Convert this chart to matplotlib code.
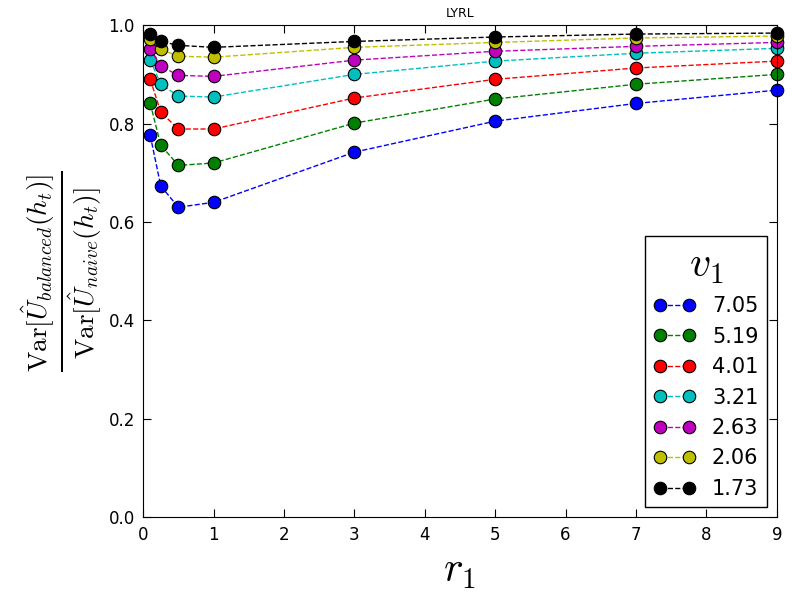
import matplotlib
matplotlib.use('Agg')
import matplotlib.pyplot as plt

# data
r1 = [0.1, 0.25, 0.5, 1, 3, 5, 7, 9]
v1_labels = ['7.05', '5.19', '4.01', '3.21', '2.63', '2.06', '1.73']
colors = ['b', 'g', 'r', 'c', 'm', 'y', 'k']

ratio_705 = [0.776, 0.673, 0.630, 0.640, 0.742, 0.805, 0.841, 0.868]
ratio_519 = [0.841, 0.756, 0.715, 0.720, 0.801, 0.850, 0.880, 0.900]
ratio_401 = [0.890, 0.823, 0.789, 0.789, 0.852, 0.890, 0.913, 0.927]
ratio_321 = [0.929, 0.880, 0.856, 0.854, 0.900, 0.927, 0.943, 0.953]
ratio_263 = [0.951, 0.917, 0.898, 0.896, 0.929, 0.947, 0.957, 0.965]
ratio_206 = [0.972, 0.951, 0.937, 0.935, 0.955, 0.965, 0.974, 0.978]
ratio_173 = [0.982, 0.967, 0.959, 0.955, 0.967, 0.976, 0.982, 0.984]
all_ratios = [ratio_705, ratio_519, ratio_401, ratio_321, ratio_263, ratio_206, ratio_173]

plt.rcParams['mathtext.fontset'] = 'cm'
plt.rcParams['xtick.direction'] = 'in'
plt.rcParams['ytick.direction'] = 'in'
plt.rcParams['xtick.top'] = True
plt.rcParams['ytick.right'] = True

fig = plt.figure(figsize=(8, 6), dpi=100)
ax = fig.add_axes([0.179, 0.138, 0.792, 0.82])

for vals, c, lab in zip(all_ratios, colors, v1_labels):
    ax.plot(r1, vals, '--o', color=c, markersize=9, markeredgecolor='k',
            markeredgewidth=0.8, linewidth=1, label=lab, clip_on=False)

ax.set_xlim(0, 9)
ax.set_ylim(0, 1.0)
ax.set_xticks(range(0, 10))
ax.set_yticks([0, 0.2, 0.4, 0.6, 0.8, 1.0])
ax.set_yticklabels(['0.0', '0.2', '0.4', '0.6', '0.8', '1.0'])
ax.tick_params(labelsize=12, length=6, pad=6)
ax.set_title('LYRL', fontsize=9)
ax.set_xlabel(r'$r_1$', fontsize=30)
ax.set_ylabel(r'$\frac{\mathrm{Var}[\hat{U}_{balanced}(h_t)]}{\mathrm{Var}[\hat{U}_{naive}(h_t)]}$',
              fontsize=28, labelpad=4)

leg = ax.legend(loc='lower right', title=r'$v_1$', fontsize=15, numpoints=2,
                fancybox=False, edgecolor='k', framealpha=1, handlelength=2.0,
                labelspacing=0.5, borderaxespad=0.48)
leg.get_title().set_fontsize(30)
leg.get_frame().set_linewidth(1)

fig.savefig('out.png', dpi=100)
